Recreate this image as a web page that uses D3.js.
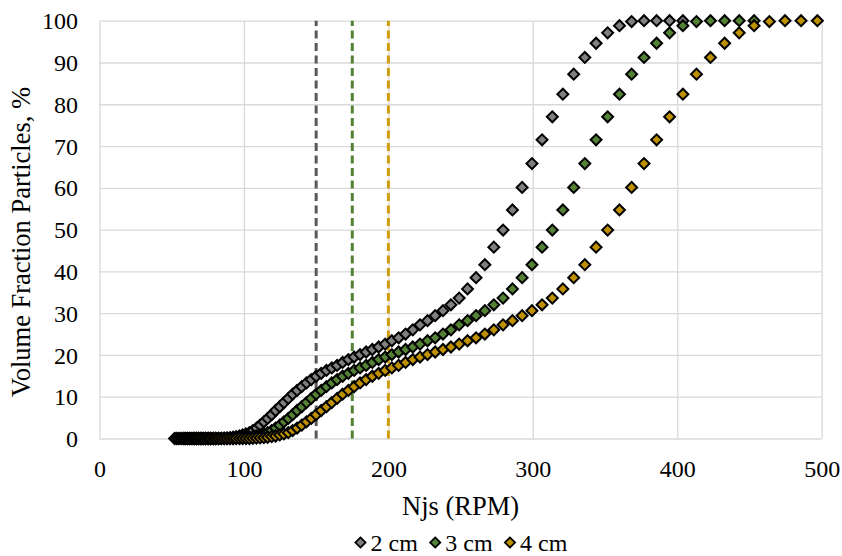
<!DOCTYPE html>
<html>
<head>
<meta charset="utf-8">
<script src="https://cdn.jsdelivr.net/npm/d3@7"></script>
<style>
  body { margin: 0; background: #fff; }
  svg { display: block; }
  text { font-family: "Liberation Serif", "Times New Roman", serif; fill: #000; }
</style>
</head>
<body>
<svg id="chart" width="842" height="556"></svg>
<script>
// Tick values for both axes
const xTicks = [0, 100, 200, 300, 400, 500];
const yTicks = [0, 10, 20, 30, 40, 50, 60, 70, 80, 90, 100];

// Series names and the just-suspended speed marked for each
const seriesNames = ["2 cm", "3 cm", "4 cm"];
const njsMarks = [150, 175, 200];

// Cumulative volume fraction of particles suspended (%), one value per size class
const volumeFraction = [
  0, 0, 0, 0, 0, 0, 0, 0, 0, 0,
  0, 0, 0, 0, 0, 0, 0, 0, 0, 0,
  0, 0.05, 0.1, 0.15, 0.2, 0.3, 0.45, 0.6, 0.85, 1.1,
  1.4, 1.9, 2.5, 3.2, 4.0, 4.8, 5.7, 6.7, 7.6, 8.6,
  9.6, 10.6, 11.5, 12.4, 13.3, 14.1, 14.9, 15.6, 16.3, 16.9,
  17.5, 18.2, 18.9, 19.5, 20.1, 20.7, 21.3, 21.9, 22.6, 23.4,
  24.1, 25.0, 26.0, 27.2, 28.2, 29.4, 30.6, 32.0, 33.6, 35.8,
  38.5, 41.6, 45.8, 49.9, 54.7, 60.1, 65.8, 71.5, 77.0, 82.4,
  87.2, 91.2, 94.6, 97.1, 98.8, 99.8, 100, 100, 100, 100
];

// Speed (RPM) needed to suspend each size class, per series
const njs2cm = [
  52.0, 53.2, 54.5, 55.7, 57.0, 58.4, 59.7, 61.1, 62.5, 64.0,
  65.5, 67.0, 68.6, 70.2, 71.8, 73.5, 75.2, 76.9, 78.7, 80.5,
  82.4, 84.3, 86.3, 88.3, 90.4, 92.5, 94.6, 96.9, 99.1, 101.4,
  103.8, 106.2, 108.7, 111.2, 113.8, 116.4, 119.2, 121.9, 124.8, 127.7,
  130.7, 133.7, 136.8, 140.0, 143.3, 146.6, 150.0, 153.5, 157.1, 160.8,
  164.5, 168.3, 172.3, 176.3, 180.4, 184.6, 188.9, 193.3, 197.8, 202.4,
  207.1, 211.9, 216.9, 221.9, 227.1, 232.4, 237.8, 243.3, 249.0, 254.8,
  260.7, 266.8, 273.0, 279.4, 285.9, 292.6, 299.4, 306.4, 313.5, 320.8,
  328.3, 336.0, 343.8, 351.8, 360.0, 368.4, 377.0, 385.7, 394.7, 403.9
];
const njs3cm = [
  58.4, 59.7, 61.1, 62.5, 64.0, 65.5, 67.0, 68.6, 70.2, 71.8,
  73.5, 75.2, 76.9, 78.7, 80.5, 82.4, 84.3, 86.3, 88.3, 90.4,
  92.5, 94.6, 96.9, 99.1, 101.4, 103.8, 106.2, 108.7, 111.2, 113.8,
  116.4, 119.2, 121.9, 124.8, 127.7, 130.7, 133.7, 136.8, 140.0, 143.3,
  146.6, 150.0, 153.5, 157.1, 160.8, 164.5, 168.3, 172.3, 176.3, 180.4,
  184.6, 188.9, 193.3, 197.8, 202.4, 207.1, 211.9, 216.9, 221.9, 227.1,
  232.4, 237.8, 243.3, 249.0, 254.8, 260.7, 266.8, 273.0, 279.4, 285.9,
  292.6, 299.4, 306.4, 313.5, 320.8, 328.3, 336.0, 343.8, 351.8, 360.0,
  368.4, 377.0, 385.7, 394.7, 403.9, 413.3, 423.0, 432.8, 442.9, 453.2
];
const njs4cm = [
  65.5, 67.0, 68.6, 70.2, 71.8, 73.5, 75.2, 76.9, 78.7, 80.5,
  82.4, 84.3, 86.3, 88.3, 90.4, 92.5, 94.6, 96.9, 99.1, 101.4,
  103.8, 106.2, 108.7, 111.2, 113.8, 116.4, 119.2, 121.9, 124.8, 127.7,
  130.7, 133.7, 136.8, 140.0, 143.3, 146.6, 150.0, 153.5, 157.1, 160.8,
  164.5, 168.3, 172.3, 176.3, 180.4, 184.6, 188.9, 193.3, 197.8, 202.4,
  207.1, 211.9, 216.9, 221.9, 227.1, 232.4, 237.8, 243.3, 249.0, 254.8,
  260.7, 266.8, 273.0, 279.4, 285.9, 292.6, 299.4, 306.4, 313.5, 320.8,
  328.3, 336.0, 343.8, 351.8, 360.0, 368.4, 377.0, 385.7, 394.7, 403.9,
  413.3, 423.0, 432.8, 442.9, 453.2, 463.8, 474.6, 485.7, 497.0, 508.6
];

const seriesNjs = [njs2cm, njs3cm, njs4cm];
const markerFill = ["#808080", "#548235", "#BF9000"];
const dashColor = ["#595959", "#548235", "#D29E0C"];

const svg = d3.select("#chart");
const plot = { left: 99.5, right: 821.7, top: 20.7, bottom: 438.5 };
const tickFont = 24;
const titleFont = 26.5;
const serif = "'Liberation Serif', 'Times New Roman', serif";

const x = d3.scaleLinear().domain([0, 500]).range([plot.left, plot.right]);
const y = d3.scaleLinear().domain([0, 100]).range([plot.bottom, plot.top]);

// Horizontal gridlines with value labels
const yAxis = svg.append("g")
  .attr("transform", `translate(${plot.left},0)`)
  .call(d3.axisLeft(y).tickValues(yTicks).tickFormat(d3.format("d"))
    .tickSize(-(plot.right - plot.left)).tickPadding(21.5));
yAxis.attr("font-family", serif);
yAxis.select(".domain").remove();
yAxis.selectAll("line").attr("stroke", "#D9D9D9").attr("stroke-width", 1.3);
yAxis.selectAll("text").attr("font-size", tickFont).attr("font-family", serif).attr("dy", "0.34em");

// Vertical gridlines with value labels
const xAxis = svg.append("g")
  .attr("transform", `translate(0,${plot.bottom})`)
  .call(d3.axisBottom(x).tickValues(xTicks).tickFormat(d3.format("d"))
    .tickSize(-(plot.bottom - plot.top)).tickPadding(21));
xAxis.attr("font-family", serif);
xAxis.select(".domain").remove();
xAxis.selectAll("line").attr("stroke", "#D9D9D9").attr("stroke-width", 1.3);
xAxis.selectAll("text").attr("font-size", tickFont).attr("font-family", serif);

// Dashed reference lines at each series' just-suspended speed
svg.append("g").selectAll("line")
  .data(njsMarks)
  .join("line")
  .attr("x1", d => x(d)).attr("x2", d => x(d))
  .attr("y1", y(0)).attr("y2", y(100))
  .attr("stroke", (d, i) => dashColor[i])
  .attr("stroke-width", 3)
  .attr("stroke-dasharray", "8,4.5");

// Diamond markers
const diamond = d3.symbol().type(d3.symbolSquare).size(60);

seriesNjs.forEach((njs, s) => {
  const pts = njs.map((v, i) => ({ x: v, y: volumeFraction[i] }))
    .filter(p => p.x >= 0 && p.x <= 500);
  svg.append("g").selectAll("path")
    .data(pts)
    .join("path")
    .attr("d", diamond)
    .attr("transform", p => `translate(${x(p.x)},${y(p.y)}) rotate(45)`)
    .attr("fill", markerFill[s])
    .attr("stroke", "#000")
    .attr("stroke-width", 2);
});

// Axis titles
svg.append("text")
  .attr("x", (plot.left + plot.right) / 2)
  .attr("y", 515)
  .attr("text-anchor", "middle")
  .attr("font-family", serif)
  .attr("font-size", titleFont)
  .text("Njs (RPM)");

svg.append("text")
  .attr("transform", `translate(21,242) rotate(-90)`)
  .attr("text-anchor", "middle")
  .attr("dy", "0.35em")
  .attr("font-family", serif)
  .attr("font-size", titleFont)
  .text("Volume Fraction Particles, %");

// Legend, centred under the plot
const legend = svg.append("g");
const items = legend.selectAll("g")
  .data(seriesNames)
  .join("g");
items.append("path")
  .attr("d", d3.symbol().type(d3.symbolSquare).size(52))
  .attr("fill", (d, i) => markerFill[i])
  .attr("stroke", "#000")
  .attr("stroke-width", 1.8)
  .attr("transform", "translate(0,-8) rotate(45)");
items.append("text")
  .attr("x", 10)
  .attr("font-family", serif)
  .attr("font-size", tickFont)
  .text(d => d);
let cursor = 0;
items.each(function () {
  const w = this.getBBox().width;
  d3.select(this).attr("transform", `translate(${cursor + 6},0)`);
  cursor += w + 12;
});
cursor -= 12;
legend.attr("transform", `translate(${(plot.left + plot.right) / 2 - cursor / 2},550.5)`);
</script>
</body>
</html>
